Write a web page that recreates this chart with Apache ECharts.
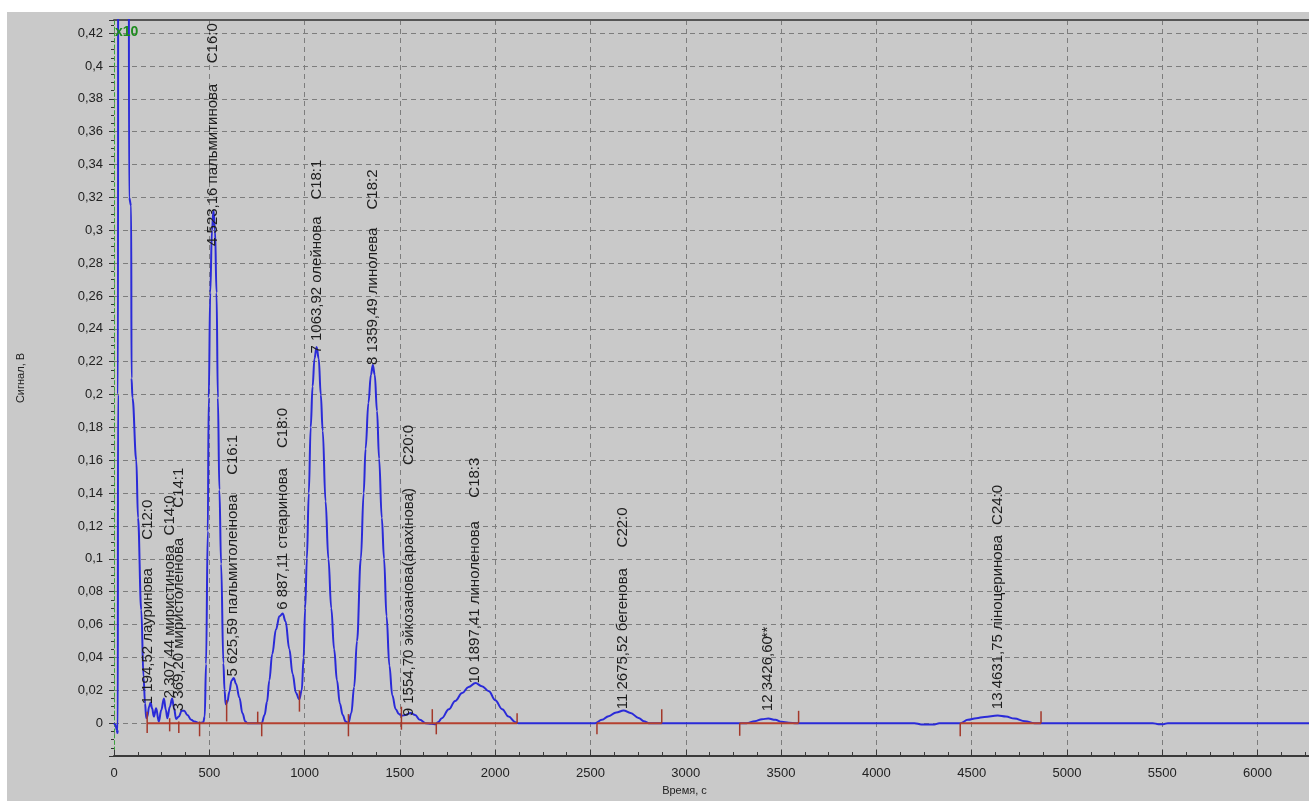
<!DOCTYPE html>
<html>
<head>
<meta charset="utf-8">
<script src="https://cdn.jsdelivr.net/npm/echarts@6/dist/echarts.min.js"></script>
<style>
html,body{margin:0;padding:0;background:#ffffff;width:1309px;height:801px;overflow:hidden;}
#main{position:absolute;left:7px;top:12px;width:1302px;height:789px;}
</style>
</head>
<body>
<div id="main"></div>
<script>
// ---- data (time, s ; signal, V) ----
const signal = [
 [0,0],[8,-0.001],[14,-0.004],[18,-0.006],[20,-0.004],[21,0.2],[22,0.6],[77,0.6],[79,0.32],[90,0.315],[92,0.21],[97,0.198],
 [117,0.16],[126,0.125],[143,0.069],[155,0.028],[163,0.012],[169,0.003],
 [175,0.004],[184,0.01],[192,0.0125],[200,0.009],[209,0.004],[221,0.009],[235,0.001],[248,0.008],[262,0.015],[272,0.008],
 [280,0.003],[293,0.01],[305,0.015],[315,0.009],[326,0.0025],[340,0.004],[355,0.0075],[368,0.0075],[385,0.005],[405,0.002],
 [422,0.001],[449,0],[468,0.0005],[476,0.004],[483,0.036],[492,0.117],[497,0.198],[505,0.262],[514,0.3],[522,0.312],
 [530,0.3],[538,0.262],[545,0.198],[553,0.142],[562,0.097],[574,0.0365],[580,0.02],[586,0.0115],[595,0.013],[605,0.019],
 [617,0.026],[628,0.0275],[640,0.024],[658,0.0155],[674,0.006],[689,0.001],[700,0],[760,0],[775,0],[790,0.005],[803,0.013],
 [815,0.026],[830,0.042],[850,0.057],[868,0.065],[885,0.0667],[900,0.062],[920,0.045],[937,0.03],[955,0.0183],[972,0.0145],
 [985,0.02],[995,0.04],[1003,0.07],[1012,0.1],[1022,0.14],[1032,0.18],[1042,0.205],[1052,0.222],[1063,0.229],[1074,0.222],
 [1085,0.2],[1095,0.178],[1110,0.135],[1125,0.1],[1140,0.07],[1155,0.045],[1170,0.026],[1185,0.012],[1200,0.005],[1215,0.001],
 [1229,0],[1245,0.006],[1260,0.022],[1275,0.05],[1295,0.1],[1310,0.14],[1320,0.167],[1335,0.195],[1348,0.212],[1358,0.218],
 [1368,0.212],[1380,0.19],[1391,0.161],[1405,0.125],[1417,0.1],[1430,0.065],[1445,0.035],[1460,0.017],[1478,0.0085],
 [1495,0.0055],[1508,0.0045],[1530,0.005],[1557,0.0062],[1580,0.005],[1605,0.002],[1635,0],[1665,-0.0004],[1688,-0.0006],
 [1700,0.0005],[1720,0.003],[1757,0.0085],[1790,0.0135],[1827,0.0183],[1860,0.022],[1897,0.0244],[1930,0.0225],[1967,0.0194],
 [2000,0.014],[2037,0.0085],[2070,0.004],[2106,0.0006],[2120,0],[2300,0],[2525,0],[2560,0.002],[2595,0.0042],[2635,0.0065],
 [2674,0.0077],[2710,0.0062],[2752,0.0032],[2780,0.0012],[2805,0],[2857,0],[3100,0],[3319,0],[3363,0.0012],[3400,0.0024],
 [3433,0.0028],[3470,0.002],[3503,0.0008],[3540,0.0002],[3581,0],[3900,0],[4200,0],[4236,-0.0008],[4304,-0.0008],[4330,0],
 [4442,0],[4480,0.002],[4525,0.003],[4567,0.0038],[4637,0.0046],[4680,0.004],[4724,0.0028],[4780,0.0012],[4829,0],
 [5450,0],[5480,-0.0006],[5505,-0.0006],[5530,0],[6270,0]
];
// integration baseline segments [start, end]
const baselineSegments = [[174,2115],[2534,2874],[3283,3592],[4440,4864]];
// peak boundary markers [time, low, high]
const boundaryMarks = [
 [174,-0.006,0.007],[292,-0.005,0.003],[340,-0.006,0.001],[449,-0.008,0.001],[591,0.001,0.014],[754,0,0.007],[775,-0.008,0],
 [973,0.007,0.02],[1230,-0.008,0.0055],[1508,-0.004,0.01],[1670,0,0.0085],[1691,-0.0068,0],[2115,0,0.006],[2534,-0.0068,0],
 [2874,0,0.0085],[3283,-0.0077,0],[3592,0,0.0075],[4440,-0.008,0],[4864,0,0.0073]
];
// peak labels
const peakLabelTime = [178,293,340,518,623,890,1068,1362,1550,1897,2673,3432,4638];
const peakLabelStart = [0.0115,0.0151,0.0073,0.2905,0.0284,0.069,0.225,0.218,0.0042,0.0242,0.0085,0.0073,0.0085];
const peakCodeTop = [0.136,0.1386,0.1555,0.426,0.1755,0.1918,0.343,0.337,0.1815,0.1616,0.1313,0.0587,0.145];
const peakNames = [
 "1 194,52 лауринова",
 "2 307,44 миристинова",
 "3 369,20 миристолеінова",
 "4 523,16 пальмитинова",
 "5 625,59 пальмитолеінова",
 "6 887,11 стеаринова",
 "7 1063,92 олейнова",
 "8 1359,49 линолева",
 "9 1554,70 эйкозанова(арахінова)",
 "10 1897,41 линоленова",
 "11 2675,52 бегенова",
 "12 3426,60",
 "13 4631,75 ліноцеринова"
];
const peakCodes = ["C12:0","C14:0","C14:1","C16:0","C16:1","C18:0","C18:1","C18:2","C20:0","C18:3","C22:0","**","C24:0"];
const xTickInterval = 500;
const yTickInterval = 0.02;

const chart = echarts.init(document.getElementById('main'), null, {renderer:'canvas'});
const FONT = 'Liberation Sans, Arial, sans-serif';
const LABEL_FONT = '14px "Liberation Sans", Arial, sans-serif';
const LABEL_COLOR = '#1e1e1e';
const LABEL_STRETCH = 1.07;

const option = {
  backgroundColor: '#c9c9c9',
  animation: false,
  grid: {left:104, top:8, right:0, bottom:41, show:true, backgroundColor:'#c9c9c9', borderWidth:0},
  graphic: [{type:'text', left:108, top:13, z:100, style:{text:'x10', fill:'#1e8c1e', font:'bold 14px "Liberation Sans", Arial'}}],
  xAxis: [{
    type:'value', min:0, max:6270, interval:xTickInterval, position:'bottom',
    axisLine:{show:true, onZero:false, lineStyle:{color:'#3a3a3a', width:2}},
    axisTick:{show:true, inside:true, length:6, lineStyle:{color:'#3a3a3a'}},
    minorTick:{show:true, splitNumber:4, length:4, lineStyle:{color:'#3a3a3a'}},
    axisLabel:{showMaxLabel:false, margin:11, fontSize:13, color:'#222', fontFamily:FONT,
      formatter:function(v){ return String(Math.round(v)); }},
    splitLine:{show:true, lineStyle:{type:[5,4], color:'#7d7d7d', width:1}},
    name:'Время, с', nameLocation:'middle', nameGap:29,
    nameTextStyle:{fontSize:11, color:'#222', fontFamily:FONT, padding:[0,54,0,0]}
  },{
    type:'value', min:0, max:6270, position:'top',
    axisLine:{show:true, onZero:false, lineStyle:{color:'#555', width:2}},
    axisTick:{show:false}, axisLabel:{show:false}, splitLine:{show:false}
  }],
  yAxis: {
    type:'value', min:-0.02, max:0.428, interval:yTickInterval,
    axisLine:{show:true, onZero:false, lineStyle:{color:'#3aa63a', type:[3,3], width:1}},
    axisTick:{show:true, length:5, lineStyle:{color:'#333'}},
    minorTick:{show:true, splitNumber:4, length:3, lineStyle:{color:'#333'}},
    axisLabel:{showMaxLabel:false, margin:11, fontSize:13, color:'#222', fontFamily:FONT,
      formatter:function(v){ if (v < -1e-9) return ''; const r = Math.round(v*100)/100; return String(r).replace('.', ','); }},
    splitLine:{show:true, lineStyle:{type:[5,4], color:'#7d7d7d', width:1}},
    name:'Сигнал, В', nameLocation:'middle', nameRotate:90, nameGap:88,
    nameTextStyle:{fontSize:11, color:'#222', fontFamily:FONT, padding:[0,0,0,20]}
  },
  series: [
    {
      type:'line', data:signal, showSymbol:false, smooth:0.4, smoothMonotone:'x',
      lineStyle:{color:'#2a2ad8', width:2}, z:3, clip:true
    },
    {
      type:'custom', z:4, data:baselineSegments,
      renderItem:function(params, api){
        const a = api.coord([api.value(0), 0]);
        const b = api.coord([api.value(1), 0]);
        return {type:'line', shape:{x1:a[0], y1:a[1], x2:b[0], y2:b[1]}, style:{stroke:'#b5402f', lineWidth:2}};
      }
    },
    {
      type:'custom', z:5, data:boundaryMarks,
      renderItem:function(params, api){
        const a = api.coord([api.value(0), api.value(1)]);
        const b = api.coord([api.value(0), api.value(2)]);
        return {type:'line', shape:{x1:a[0], y1:a[1], x2:b[0], y2:b[1]}, style:{stroke:'#a3382a', lineWidth:1.5}};
      }
    },
    {
      type:'custom', z:6, data:peakLabelTime.map((t,i)=>[t, peakLabelStart[i]]),
      renderItem:function(params, api){
        const p = api.coord([api.value(0), api.value(1)]);
        return {type:'text', x:p[0], y:p[1], rotation:Math.PI/2, scaleX:LABEL_STRETCH,
          style:{text:peakNames[params.dataIndex], font:LABEL_FONT, fill:LABEL_COLOR, align:'left', verticalAlign:'middle'}};
      }
    },
    {
      type:'custom', z:6, data:peakLabelTime.map((t,i)=>[t, peakCodeTop[i]]),
      renderItem:function(params, api){
        const p = api.coord([api.value(0), api.value(1)]);
        return {type:'text', x:p[0], y:p[1], rotation:Math.PI/2, scaleX:LABEL_STRETCH,
          style:{text:peakCodes[params.dataIndex], font:LABEL_FONT, fill:LABEL_COLOR, align:'right', verticalAlign:'middle'}};
      }
    }
  ]
};
chart.setOption(option);
</script>
</body>
</html>
